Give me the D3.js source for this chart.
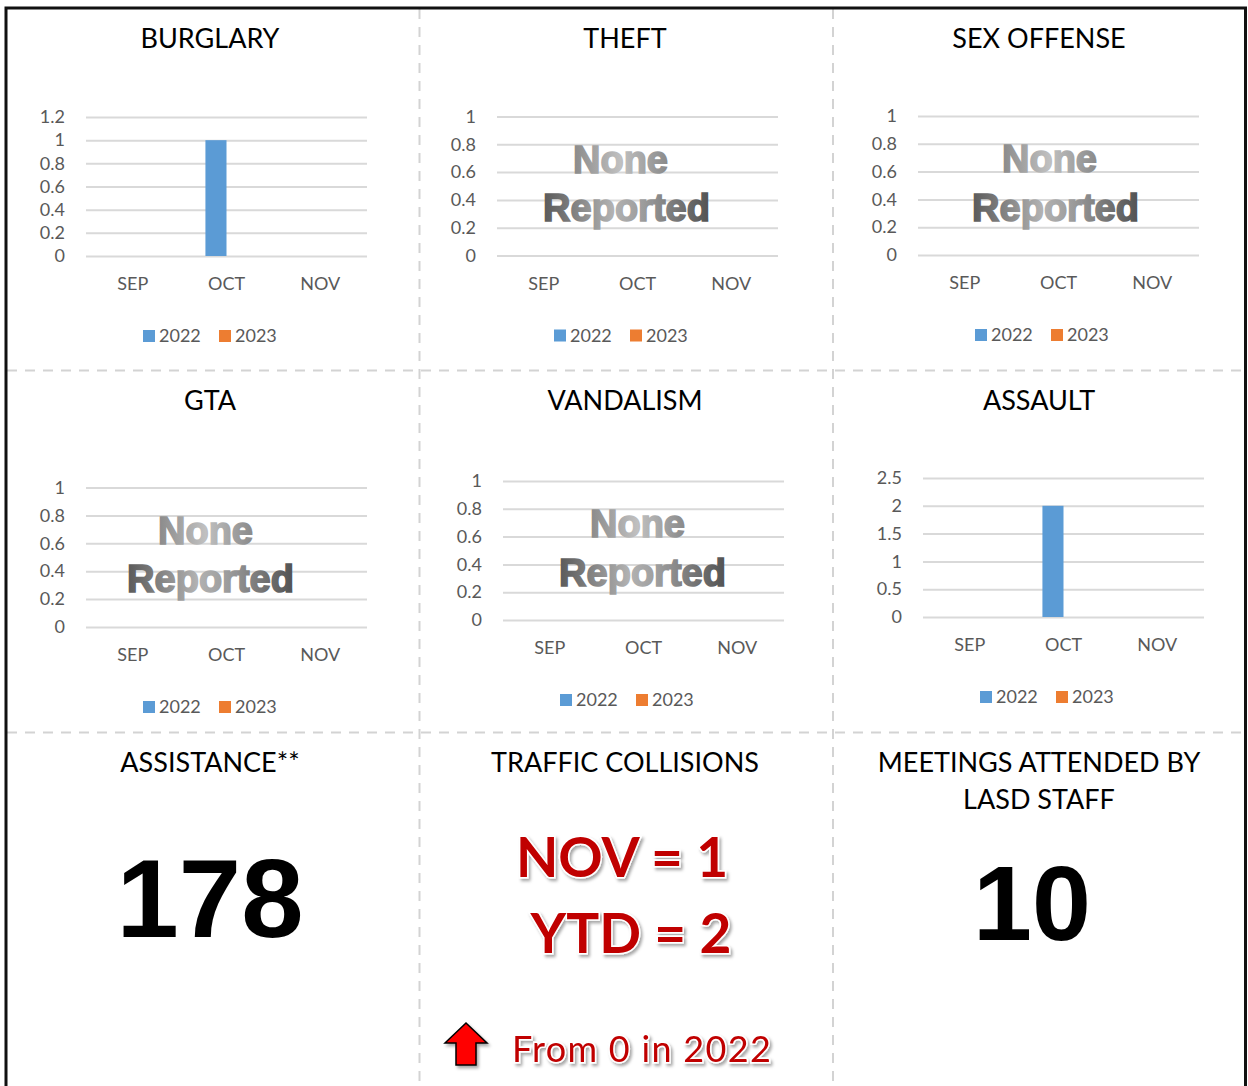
<!DOCTYPE html>
<html>
<head>
<meta charset="utf-8">
<script src="https://cdn.jsdelivr.net/npm/d3@7"></script>
<style>
  body { margin: 0; background: #fff; }
  svg text { font-family: Lato, "Open Sans", sans-serif; }
</style>
</head>
<body>
<script>
// months on the x axis and the two series
var months = ["SEP", "OCT", "NOV"];
var years = ["2022", "2023"];
var yearColors = ["#5b9bd5", "#ed7d31"];

// counts per month, [2022, 2023]
var burglary2022 = [0, 1, 0], burglary2023 = [0, 0, 0];
var theft2022 = [0, 0, 0], theft2023 = [0, 0, 0];
var sexOffense2022 = [0, 0, 0], sexOffense2023 = [0, 0, 0];
var gta2022 = [0, 0, 0], gta2023 = [0, 0, 0];
var vandalism2022 = [0, 0, 0], vandalism2023 = [0, 0, 0];
var assault2022 = [0, 2, 0], assault2023 = [0, 0, 0];

// y tick labels
var burglaryTicks = [0, 0.2, 0.4, 0.6, 0.8, 1, 1.2];
var unitTicks = [0, 0.2, 0.4, 0.6, 0.8, 1];
var assaultTicks = [0, 0.5, 1, 1.5, 2, 2.5];

// bottom row figures
var assistanceTotal = 178;
var collisionsMonth = "NOV = 1";
var collisionsYtd = "YTD = 2";
var collisionsNote = "From 0 in 2022";
var meetingsTotal = 10;

var W = 1248, H = 1086;
var colX = [210, 625, 1039];

var panels = [
  {title: "BURGLARY", col: 0, titleY: 48, left: 86, top: 117, bottom: 256, ticks: burglaryTicks, vals: [burglary2022, burglary2023]},
  {title: "THEFT", col: 1, titleY: 48, left: 497, top: 116.5, bottom: 255.5, ticks: unitTicks, vals: [theft2022, theft2023], none: [-17, -11]},
  {title: "SEX OFFENSE", col: 2, titleY: 48, left: 918, top: 116, bottom: 255, ticks: unitTicks, vals: [sexOffense2022, sexOffense2023], none: [-9, -3]},
  {title: "GTA", col: 0, titleY: 410, left: 86, top: 487.5, bottom: 627, ticks: unitTicks, vals: [gta2022, gta2023], none: [-21, -16]},
  {title: "VANDALISM", col: 1, titleY: 410, left: 503, top: 481, bottom: 620, ticks: unitTicks, vals: [vandalism2022, vandalism2023], none: [-6, -1]},
  {title: "ASSAULT", col: 2, titleY: 410, left: 923, top: 478, bottom: 617, ticks: assaultTicks, vals: [assault2022, assault2023]}
];
var plotW = 281;

var svg = d3.select("body").append("svg")
  .attr("width", W).attr("height", H);

var defs = svg.append("defs");
var g1 = defs.append("linearGradient").attr("id", "noneGrad");
g1.append("stop").attr("offset", "0").attr("stop-color", "#8a8a8a");
g1.append("stop").attr("offset", "0.5").attr("stop-color", "#c0c0c0");
g1.append("stop").attr("offset", "1").attr("stop-color", "#8a8a8a");
var g2 = defs.append("linearGradient").attr("id", "repGrad");
g2.append("stop").attr("offset", "0").attr("stop-color", "#5a5a5a");
g2.append("stop").attr("offset", "0.42").attr("stop-color", "#b2b2b2");
g2.append("stop").attr("offset", "0.6").attr("stop-color", "#9c9c9c");
g2.append("stop").attr("offset", "1").attr("stop-color", "#525252");

var shadow = defs.append("filter").attr("id", "shadow")
  .attr("x", "-20%").attr("y", "-20%").attr("width", "140%").attr("height", "150%");
shadow.append("feDropShadow").attr("dx", 2).attr("dy", 2.5).attr("stdDeviation", 1.6)
  .attr("flood-color", "#000").attr("flood-opacity", 0.35);

svg.append("rect").attr("width", W).attr("height", H).attr("fill", "#fff");

// dashed cell dividers
var dash = svg.append("g").attr("stroke", "#d3d3d3").attr("stroke-width", 2)
  .attr("stroke-dasharray", "10,8");
[419.5, 833].forEach(function(x) {
  dash.append("line").attr("x1", x).attr("x2", x).attr("y1", 9).attr("y2", H);
});
[370.5, 732.5].forEach(function(y) {
  dash.append("line").attr("x1", 7).attr("x2", 1244).attr("y1", y).attr("y2", y);
});

// outer border
svg.append("rect").attr("x", 6).attr("y", 8).attr("width", 1239.5).attr("height", H + 20)
  .attr("fill", "none").attr("stroke", "#111").attr("stroke-width", 3);

panels.forEach(function(p) {
  var g = svg.append("g");
  var cx = colX[p.col];

  g.append("text").attr("x", cx).attr("y", p.titleY)
    .attr("text-anchor", "middle").attr("font-size", 27).attr("fill", "#000")
    .text(p.title);

  var x0 = d3.scaleBand().domain(months).range([p.left, p.left + plotW])
    .paddingInner(0.55).paddingOuter(0.275);
  var x1 = d3.scaleBand().domain(years).range([0, x0.bandwidth()]);
  var y = d3.scaleLinear().domain([0, d3.max(p.ticks)]).range([p.bottom, p.top]);

  // gridlines
  g.append("g")
    .attr("transform", "translate(" + p.left + ",0)")
    .call(d3.axisLeft(y).tickValues(p.ticks).tickSize(-plotW).tickFormat(""))
    .call(function(a) {
      a.select(".domain").remove();
      a.selectAll("line").attr("stroke", "#d9d9d9").attr("stroke-width", 2);
    });

  // y labels
  g.append("g")
    .attr("transform", "translate(" + p.left + ",0)")
    .call(d3.axisLeft(y).tickValues(p.ticks).tickSize(0).tickPadding(21)
      .tickFormat(function(d) { return String(d); }))
    .call(function(a) {
      a.select(".domain").remove();
      a.selectAll("text").attr("font-size", 18).attr("fill", "#595959")
        .attr("font-family", "Lato, 'Open Sans', sans-serif");
    });

  // x labels
  g.append("g")
    .attr("transform", "translate(0," + (p.bottom + 34) + ")")
    .call(d3.axisBottom(x0).tickSize(0).tickPadding(0))
    .call(function(a) {
      a.select(".domain").remove();
      a.selectAll("text").attr("font-size", 18).attr("fill", "#595959").attr("dy", 0)
        .attr("font-family", "Lato, 'Open Sans', sans-serif");
    });

  // bars
  var rows = [];
  months.forEach(function(m, i) {
    years.forEach(function(yr, j) {
      rows.push({month: m, year: yr, value: p.vals[j][i], c: yearColors[j]});
    });
  });
  g.selectAll(".bar").data(rows).enter().append("rect")
    .attr("class", "bar")
    .attr("x", function(d) { return x0(d.month) + x1(d.year); })
    .attr("width", x1.bandwidth())
    .attr("y", function(d) { return y(d.value); })
    .attr("height", function(d) { return y(0) - y(d.value); })
    .attr("fill", function(d) { return d.c; });

  // legend
  var leg = g.append("g").attr("transform", "translate(" + (p.left + 57) + "," + (p.bottom + 86) + ")");
  years.forEach(function(yr, j) {
    var lx = j * 76;
    leg.append("rect").attr("x", lx).attr("y", -12).attr("width", 12).attr("height", 12)
      .attr("fill", yearColors[j]);
    leg.append("text").attr("x", lx + 16).attr("y", 0).attr("font-size", 18)
      .attr("fill", "#595959").text(yr);
  });

  // watermark when nothing was reported
  var total = d3.sum(p.vals, function(s) { return d3.sum(s); });
  if (total === 0 && p.none) {
    var pc = p.left + plotW / 2;
    g.append("text").attr("x", pc + p.none[0]).attr("y", p.top + 56)
      .attr("text-anchor", "middle").attr("font-size", 38).attr("font-weight", "bold")
      .style("font-family", "'Liberation Sans', Arial, sans-serif")
      .attr("fill", "url(#noneGrad)").attr("stroke", "url(#noneGrad)").attr("stroke-width", 1.6)
      .text("None");
    g.append("text").attr("x", pc + p.none[1]).attr("y", p.top + 104.5)
      .attr("text-anchor", "middle").attr("font-size", 38).attr("font-weight", "bold")
      .style("font-family", "'Liberation Sans', Arial, sans-serif")
      .attr("fill", "url(#repGrad)").attr("stroke", "url(#repGrad)").attr("stroke-width", 1.6)
      .text("Reported");
  }
});

// bottom row
var bottomTitles = [["ASSISTANCE**"], ["TRAFFIC COLLISIONS"], ["MEETINGS ATTENDED BY", "LASD STAFF"]];
bottomTitles.forEach(function(lines, i) {
  lines.forEach(function(t, k) {
    svg.append("text").attr("x", colX[i]).attr("y", 772 + k * 37)
      .attr("text-anchor", "middle").attr("font-size", 27).attr("fill", "#000").text(t);
  });
});

svg.append("text").attr("x", 210).attr("y", 937)
  .attr("text-anchor", "middle").attr("font-size", 112).attr("font-weight", "bold")
  .style("font-family", "'Liberation Sans', Arial, sans-serif")
  .attr("fill", "#000").text(assistanceTotal);

svg.append("text").attr("x", 1032).attr("y", 940)
  .attr("text-anchor", "middle").attr("font-size", 106).attr("font-weight", "bold")
  .style("font-family", "'Liberation Sans', Arial, sans-serif")
  .attr("fill", "#000").text(meetingsTotal);

function redText(txt, x, yb, size, weight, spacing) {
  svg.append("text").attr("x", x).attr("y", yb)
    .attr("text-anchor", "middle").attr("font-size", size).attr("font-weight", weight)
    .attr("letter-spacing", spacing || 0)
    .attr("fill", "#c00000").attr("stroke", "#fff").attr("stroke-width", 3)
    .style("paint-order", "stroke").attr("filter", "url(#shadow)")
    .text(txt);
}
redText(collisionsMonth, 622, 877, 55, "bold");
redText(collisionsYtd, 631, 953, 55, "bold");
redText(collisionsNote, 642, 1062, 36, "normal", 1.3);

// up arrow
var arrow = [[0, -21], [21, -1], [10, -1], [10, 21], [-10, 21], [-10, -1], [-21, -1]];
svg.append("path")
  .attr("transform", "translate(466,1044)")
  .attr("d", d3.line()(arrow) + "Z")
  .attr("fill", "#ff0000").attr("stroke", "#000").attr("stroke-width", 1.5)
  .attr("stroke-linejoin", "miter").attr("filter", "url(#shadow)");
</script>
</body>
</html>
